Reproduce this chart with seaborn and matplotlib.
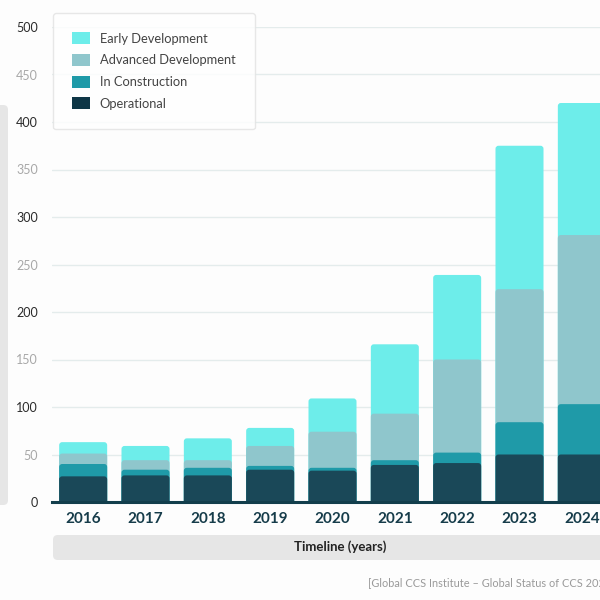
import matplotlib
matplotlib.use("Agg")
import matplotlib.pyplot as plt
from matplotlib.patches import FancyBboxPatch, Patch
import numpy as np
import pandas as pd
import seaborn as sns

# -- Data ----------------------------------------------------------------------
years = ["2016", "2017", "2018", "2019", "2020", "2021", "2022", "2023", "2024"]
operational = [27, 28, 28, 34, 33, 39, 41, 50, 50]
in_construction = [13, 6, 8, 4, 3, 5, 11, 34, 53]
advanced_dev = [11, 10, 8, 21, 38, 49, 98, 140, 178]
early_dev = [12, 15, 23, 19, 35, 73, 89, 151, 139]

stages = ["Early Development", "Advanced Development", "In Construction", "Operational"]
colors = {
    "Early Development": "#6DEDEA",
    "Advanced Development": "#8FC6CC",
    "In Construction": "#1F9AA8",
    "Operational": "#1A4858",
}
legend_colors = {**colors, "Operational": "#0E3646"}

# -- Figure --------------------------------------------------------------------
sns.set_theme(style="white")
plt.rcParams["font.family"] = ["Lato", "DejaVu Sans"]

fig = plt.figure(figsize=(6, 6), dpi=100)
fig.patch.set_facecolor("#FDFDFD")
ax = fig.add_axes([52 / 600, 98 / 600, 561 / 600, 475 / 600])
ax.set_facecolor("none")

df = pd.DataFrame({
    "year": years,
    "Operational": operational,
    "In Construction": in_construction,
    "Advanced Development": advanced_dev,
    "Early Development": early_dev,
})
cum = df[["Operational", "In Construction", "Advanced Development", "Early Development"]].cumsum(axis=1)

# draw cumulative totals, tallest first, so lower stages overlay upper ones
for stage in stages:
    sns.barplot(x=df["year"], y=cum[stage], color=colors[stage], width=0.77,
                saturation=1, ax=ax, zorder=2)

# swap plain rectangles for slightly rounded ones
x_per_px = 9 / 561
y_per_px = 500 / 475
for p in list(ax.patches):
    x, y = p.get_x(), p.get_y()
    w, h = p.get_width(), p.get_height()
    rb = FancyBboxPatch((x, y - 6 * y_per_px), w, h + 6 * y_per_px,
                        boxstyle=f"round,pad=0,rounding_size={3 * x_per_px}",
                        mutation_aspect=y_per_px / x_per_px,
                        facecolor=p.get_facecolor(), edgecolor="none",
                        zorder=2, clip_on=True)
    p.remove()
    ax.add_patch(rb)

ax.set_xlim(-0.5, 8.5)
ax.set_ylim(0, 500)
ax.set_yticks(np.arange(0, 501, 50))
ax.yaxis.grid(True, color="#E4ECEC", linewidth=1)
ax.set_axisbelow(True)
for s in ["top", "right", "left"]:
    ax.spines[s].set_visible(False)
ax.spines["bottom"].set_color("#123E4C")
ax.spines["bottom"].set_linewidth(2.2)
ax.spines["bottom"].set_zorder(3)

ax.tick_params(axis="y", length=0, pad=10, labelsize=9)
for lab in ax.get_yticklabels():
    v = float(lab.get_text().replace("−", "-"))
    lab.set_color("#2B2B2B" if v % 100 == 0 else "#A8A8A8")
ax.tick_params(axis="x", length=0, pad=7, labelsize=11)
for lab in ax.get_xticklabels():
    lab.set_fontweight("bold")
    lab.set_color("#163C4A")
ax.set_xlabel("")
ax.set_ylabel("")

# -- Legend --------------------------------------------------------------------
handles = [Patch(facecolor=legend_colors[s], edgecolor="none", label=s) for s in stages]
leg = fig.legend(handles=handles, loc="upper left",
                 bbox_to_anchor=(53 / 600, 1 - 13 / 600),
                 frameon=True, fancybox=True, fontsize=9.3,
                 handlelength=1.4, handleheight=1.05, handletextpad=0.7,
                 labelspacing=0.72, borderpad=1.5, borderaxespad=0)
leg.get_frame().set_edgecolor("#E2E2E2")
leg.get_frame().set_facecolor("white")
leg.get_frame().set_linewidth(1)
for t in leg.get_texts():
    t.set_color("#444444")

# -- Axis label boxes ----------------------------------------------------------
fig.patches.append(FancyBboxPatch((53 / 600, 1 - 560 / 600), 600 / 600, 25 / 600,
                                  boxstyle="round,pad=0,rounding_size=0.008",
                                  transform=fig.transFigure, facecolor="#E6E6E6",
                                  edgecolor="none", zorder=0))
fig.text(340 / 600, 1 - 547 / 600, "Timeline (years)", ha="center", va="center",
         fontsize=9.5, fontweight="bold", color="#222222")

fig.patches.append(FancyBboxPatch((-20 / 600, 1 - 505 / 600), 28 / 600, 400 / 600,
                                  boxstyle="round,pad=0,rounding_size=0.008",
                                  transform=fig.transFigure, facecolor="#E6E6E6",
                                  edgecolor="none", zorder=0))
fig.text(-6 / 600, 1 - 305 / 600, "CO₂ capture capacity (Mtpa)", rotation=90,
         ha="center", va="center", fontsize=9.5, fontweight="bold", color="#222222")

fig.text(368 / 600, 1 - 583 / 600, "[Global CCS Institute – Global Status of CCS 2024]",
         ha="left", va="center", fontsize=7.9, color="#9A9A9A")

fig.savefig("out.png", dpi=100, facecolor=fig.get_facecolor())
